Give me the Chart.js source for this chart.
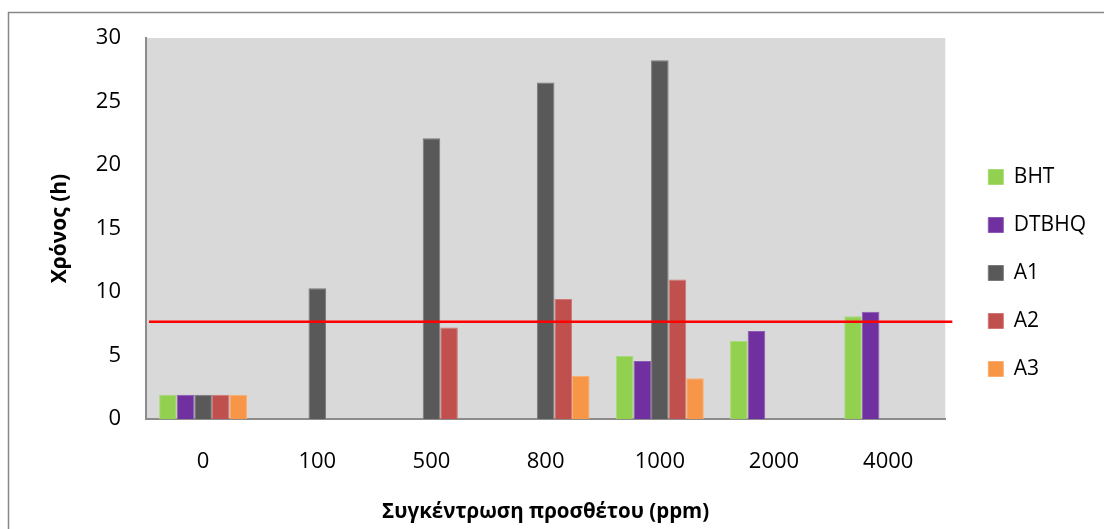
<!DOCTYPE html>
<html>
<head>
<meta charset="utf-8">
<script src="https://cdn.jsdelivr.net/npm/chart.js@4/dist/chart.umd.min.js"></script>
<style>
  html, body { margin: 0; padding: 0; background: #ffffff; }
  #wrap { width: 1104px; height: 529px; position: relative; overflow: hidden; }
</style>
</head>
<body>
<div id="wrap"><canvas id="chart" width="1104" height="529"></canvas></div>
<script>
// Additive concentration (ppm) on the category axis
const categories = ['0', '100', '500', '800', '1000', '2000', '4000'];

// Induction time (h) per antioxidant; null where no measurement exists
const bhtValues   = [1.9, null, null, null, 4.97, 6.15, 8.1];
const dtbhqValues = [1.9, null, null, null, 4.57, 6.92, 8.44];
const a1Values    = [1.9, 10.3, 22.1, 26.5, 28.25, null, null];
const a2Values    = [1.9, null, 7.2, 9.44, 10.99, null, null];
const a3Values    = [1.9, null, null, 3.39, 3.21, null, null];

// Reference limit drawn as a horizontal red line
const thresholdHours = 7.65;

// Value-axis range and step
const yMin = 0;
const yMax = 30;
const yStep = 5;

const seriesNames = ['BHT', 'DTBHQ', 'A1', 'A2', 'A3'];
const seriesColors = ['#92D050', '#7030A0', '#595959', '#C0504D', '#F79646'];
const seriesEdges  = ['#A8DA78', '#8C5AB4', '#7A7A7A', '#CF7875', '#F9AF74'];
const seriesValues = [bhtValues, dtbhqValues, a1Values, a2Values, a3Values];

const FONT = '"Open Sans", "DejaVu Sans", sans-serif';

// Frame, plot background and threshold line
const decorations = {
  id: 'decorations',
  beforeDraw(chart) {
    const { ctx, chartArea: a } = chart;
    ctx.save();
    ctx.fillStyle = '#ffffff';
    ctx.fillRect(0, 0, chart.width, chart.height);
    // outer frame (continues past the visible canvas on right and bottom)
    ctx.strokeStyle = '#878787';
    ctx.lineWidth = 1.5;
    ctx.beginPath();
    ctx.moveTo(8.5, chart.height + 5);
    ctx.lineTo(8.5, 12.5);
    ctx.lineTo(chart.width + 5, 12.5);
    ctx.stroke();
    // plot background
    ctx.fillStyle = '#D9D9D9';
    ctx.fillRect(a.left, a.top, a.right - a.left, a.bottom - a.top);
    ctx.restore();
  },
  afterDatasetsDraw(chart) {
    const { ctx, chartArea: a, scales } = chart;
    const y = scales.y.getPixelForValue(thresholdHours);
    ctx.save();
    ctx.strokeStyle = '#FF0000';
    ctx.lineWidth = 2.5;
    ctx.beginPath();
    ctx.moveTo(a.left + 3, y);
    ctx.lineTo(a.right + 7, y);
    ctx.stroke();
    ctx.restore();
  }
};

// Place the legend column a little away from the plot
const legendOffset = {
  id: 'legendOffset',
  afterLayout(chart) {
    const lg = chart.legend;
    if (!lg) return;
    const dx = 16;
    lg.left += dx;
    lg.right += dx;
  }
};

const datasets = seriesNames.map((name, i) => ({
  label: name,
  data: seriesValues[i],
  backgroundColor: seriesColors[i],
  borderColor: seriesEdges[i],
  borderWidth: 1,
  categoryPercentage: 0.77,
  barPercentage: 1.0
}));

new Chart(document.getElementById('chart'), {
  type: 'bar',
  data: { labels: categories, datasets },
  plugins: [decorations, legendOffset],
  options: {
    responsive: false,
    animation: false,
    layout: { padding: { left: 20, top: 17, right: 24, bottom: 0 } },
    plugins: {
      tooltip: { enabled: false },
      legend: {
        position: 'right',
        labels: {
          color: '#000000',
          font: { family: FONT, size: 21 },
          boxWidth: 15,
          boxHeight: 15,
          padding: 27
        }
      }
    },
    scales: {
      x: {
        grid: { display: false, drawTicks: false },
        border: { display: true, color: '#8C8C8C', width: 2 },
        ticks: { color: '#000000', font: { family: FONT, size: 22 }, padding: 30 },
        title: {
          display: true,
          text: 'Συγκέντρωση προσθέτου (ppm)',
          color: '#000000',
          font: { family: FONT, size: 20.5, weight: 'bold' },
          padding: { top: 4, bottom: 5 }
        },
        afterFit(scale) { scale.height = 110; }
      },
      y: {
        min: yMin,
        max: yMax,
        grid: { display: false, drawTicks: false },
        border: { display: true, color: '#8C8C8C', width: 2 },
        ticks: { stepSize: yStep, color: '#000000', font: { family: FONT, size: 22 }, padding: 25 },
        title: {
          display: true,
          text: 'Χρόνος (h)',
          color: '#000000',
          font: { family: FONT, size: 21, weight: 'bold' },
          padding: { top: 27, bottom: 4 }
        },
        afterFit(scale) { scale.width = 126; scale.paddingTop = 38; }
      }
    }
  }
});
</script>
</body>
</html>
